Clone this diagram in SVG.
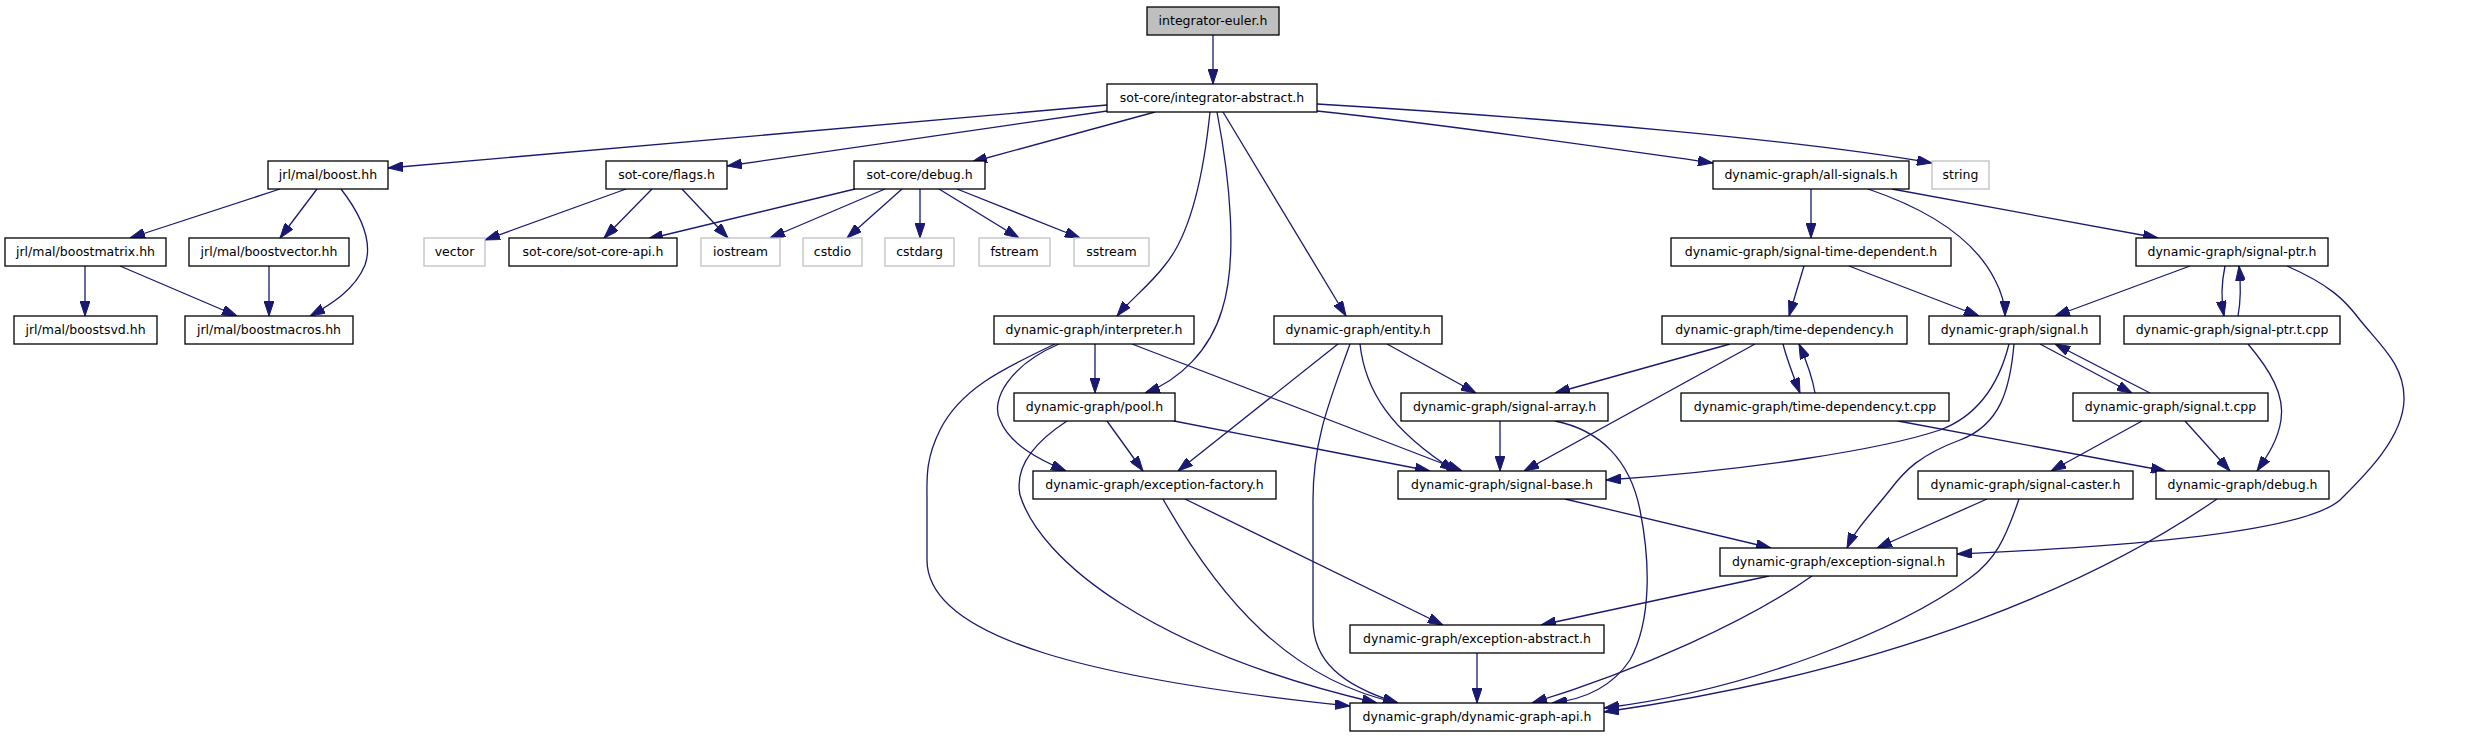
<svg xmlns="http://www.w3.org/2000/svg" width="2467" height="736" viewBox="0 0 2467 736">
<style>
.n rect{fill:#ffffff;stroke:#000000;stroke-width:1.3}
.n.root rect{fill:#bfbfbf}
.n.ext rect{stroke:#bfbfbf}
.n text{font-family:"DejaVu Sans",sans-serif;font-size:12.5px;fill:#000;text-anchor:middle}
.e path{fill:none;stroke:#191970;stroke-width:1.3;marker-end:url(#ah)}
</style>
<defs>
<marker id="ah" markerUnits="userSpaceOnUse" markerWidth="15" markerHeight="10" refX="15" refY="5" orient="auto">
<path d="M0,0 L15,5 L0,10 z" fill="#191970" stroke="#191970" stroke-width="1"/>
</marker>
</defs>
<rect width="2467" height="736" fill="#ffffff"/>
<g id="edges" class="e">
<path d="M1213,35 L1213,84"/>
<path d="M1107,105 L388,168"/>
<path d="M1107,111 L727,166"/>
<path d="M1155,112 L972,162"/>
<path d="M1210,112 C1203,180 1190,235 1165,265 C1150,285 1130,300 1117,316"/>
<path d="M1217,112 C1230,180 1238,260 1222,310 C1210,350 1180,380 1145,393"/>
<path d="M1223,112 L1346,316"/>
<path d="M1317,111 C1450,125 1600,147 1713,163"/>
<path d="M1317,104 C1550,118 1800,140 1932,163"/>
<path d="M280,189 L130,238"/>
<path d="M317,189 L280,238"/>
<path d="M341,189 C365,220 372,245 365,265 C355,290 330,305 310,316"/>
<path d="M85,266 L85,316"/>
<path d="M120,266 L237,316"/>
<path d="M269,266 L269,316"/>
<path d="M626,189 L485,240"/>
<path d="M652,189 L604,238"/>
<path d="M682,189 L728,238"/>
<path d="M855,189 L648,239"/>
<path d="M885,189 L770,238"/>
<path d="M902,189 L847,238"/>
<path d="M920,189 L920,238"/>
<path d="M939,189 L1019,238"/>
<path d="M957,189 L1080,238"/>
<path d="M1811,189 L1811,238"/>
<path d="M1868,189 C1930,210 1975,240 1995,280 C2003,295 2005,305 2005,316"/>
<path d="M1892,189 L2158,238"/>
<path d="M1804,266 L1789,316"/>
<path d="M1849,266 L1979,316"/>
<path d="M2190,266 L2055,316"/>
<path d="M2225,266 C2221,285 2221,300 2224,316"/>
<path d="M2238,316 C2241,300 2241,285 2239,266"/>
<path d="M2287,266 C2330,285 2345,300 2360,320 C2380,345 2405,365 2404,400 C2403,440 2360,480 2340,500 C2300,535 2100,548 1957,554"/>
<path d="M2248,344 C2270,370 2285,395 2281,420 C2278,440 2268,455 2257,471"/>
<path d="M1730,344 L1555,393"/>
<path d="M1755,344 L1524,471"/>
<path d="M1783,344 C1787,360 1793,375 1800,393"/>
<path d="M1815,393 C1812,375 1806,360 1799,344"/>
<path d="M2009,344 C2000,380 1980,415 1940,430 C1880,450 1750,470 1606,480"/>
<path d="M2014,344 C2010,390 2000,425 1960,440 C1920,455 1905,470 1890,490 C1870,515 1855,530 1847,548"/>
<path d="M2040,344 L2132,393"/>
<path d="M2150,393 L2055,344"/>
<path d="M2142,421 L2051,471"/>
<path d="M2185,421 L2230,471"/>
<path d="M1898,421 L2166,471"/>
<path d="M1500,421 L1500,471"/>
<path d="M1555,421 C1600,430 1630,460 1640,510 C1650,560 1652,620 1630,660 C1610,690 1580,700 1552,703"/>
<path d="M1565,499 L1771,548"/>
<path d="M1987,499 L1877,548"/>
<path d="M2019,499 C2005,540 1995,560 1970,578 C1900,630 1750,690 1604,708"/>
<path d="M2217,499 C2100,580 1900,670 1604,712"/>
<path d="M1769,576 L1541,625"/>
<path d="M1812,576 C1750,620 1640,670 1532,703"/>
<path d="M1477,653 L1477,703"/>
<path d="M1338,344 L1178,471"/>
<path d="M1350,344 C1330,400 1313,440 1313,500 L1313,620 C1313,660 1340,685 1398,703"/>
<path d="M1360,344 C1365,390 1390,430 1455,471"/>
<path d="M1387,344 L1476,393"/>
<path d="M1095,344 L1095,393"/>
<path d="M1132,344 L1462,471"/>
<path d="M1059,344 C1010,365 990,400 1000,420 C1010,445 1040,460 1066,471"/>
<path d="M1055,344 C1000,370 960,390 940,430 C925,460 927,480 927,500 L927,560 C927,640 1100,680 1350,706"/>
<path d="M1107,421 L1143,471"/>
<path d="M1174,421 L1430,471"/>
<path d="M1067,421 C1030,445 1015,470 1020,495 C1040,560 1150,650 1377,703"/>
<path d="M1163,499 C1220,600 1290,680 1398,703"/>
<path d="M1185,499 L1443,625"/>
</g>
<g id="n0" class="n root"><rect x="1147" y="7" width="132" height="28"/><text x="1213" y="25">integrator-euler.h</text></g>
<g id="n1" class="n"><rect x="1107" y="84" width="210" height="28"/><text x="1212" y="102">sot-core/integrator-abstract.h</text></g>
<g id="n2" class="n"><rect x="268" y="161" width="120" height="28"/><text x="328" y="179">jrl/mal/boost.hh</text></g>
<g id="n3" class="n"><rect x="606" y="161" width="121" height="28"/><text x="666.5" y="179">sot-core/flags.h</text></g>
<g id="n4" class="n"><rect x="854" y="161" width="131" height="28"/><text x="919.5" y="179">sot-core/debug.h</text></g>
<g id="n5" class="n"><rect x="1713" y="161" width="196" height="28"/><text x="1811" y="179">dynamic-graph/all-signals.h</text></g>
<g id="n6" class="n ext"><rect x="1932" y="161" width="57" height="28"/><text x="1960.5" y="179">string</text></g>
<g id="n7" class="n"><rect x="5" y="238" width="161" height="28"/><text x="85.5" y="256">jrl/mal/boostmatrix.hh</text></g>
<g id="n8" class="n"><rect x="189" y="238" width="160" height="28"/><text x="269" y="256">jrl/mal/boostvector.hh</text></g>
<g id="n9" class="n ext"><rect x="424" y="238" width="61" height="28"/><text x="454.5" y="256">vector</text></g>
<g id="n10" class="n"><rect x="509" y="238" width="168" height="28"/><text x="593" y="256">sot-core/sot-core-api.h</text></g>
<g id="n11" class="n ext"><rect x="701" y="238" width="79" height="28"/><text x="740.5" y="256">iostream</text></g>
<g id="n12" class="n ext"><rect x="803" y="238" width="59" height="28"/><text x="832.5" y="256">cstdio</text></g>
<g id="n13" class="n ext"><rect x="885" y="238" width="69" height="28"/><text x="919.5" y="256">cstdarg</text></g>
<g id="n14" class="n ext"><rect x="979" y="238" width="71" height="28"/><text x="1014.5" y="256">fstream</text></g>
<g id="n15" class="n ext"><rect x="1074" y="238" width="75" height="28"/><text x="1111.5" y="256">sstream</text></g>
<g id="n16" class="n"><rect x="1671" y="238" width="280" height="28"/><text x="1811" y="256">dynamic-graph/signal-time-dependent.h</text></g>
<g id="n17" class="n"><rect x="2136" y="238" width="192" height="28"/><text x="2232" y="256">dynamic-graph/signal-ptr.h</text></g>
<g id="n18" class="n"><rect x="14" y="316" width="143" height="28"/><text x="85.5" y="334">jrl/mal/boostsvd.hh</text></g>
<g id="n19" class="n"><rect x="185" y="316" width="168" height="28"/><text x="269" y="334">jrl/mal/boostmacros.hh</text></g>
<g id="n20" class="n"><rect x="994" y="316" width="200" height="28"/><text x="1094" y="334">dynamic-graph/interpreter.h</text></g>
<g id="n21" class="n"><rect x="1274" y="316" width="168" height="28"/><text x="1358" y="334">dynamic-graph/entity.h</text></g>
<g id="n22" class="n"><rect x="1662" y="316" width="245" height="28"/><text x="1784.5" y="334">dynamic-graph/time-dependency.h</text></g>
<g id="n23" class="n"><rect x="1929" y="316" width="171" height="28"/><text x="2014.5" y="334">dynamic-graph/signal.h</text></g>
<g id="n24" class="n"><rect x="2124" y="316" width="216" height="28"/><text x="2232" y="334">dynamic-graph/signal-ptr.t.cpp</text></g>
<g id="n25" class="n"><rect x="1014" y="393" width="161" height="28"/><text x="1094.5" y="411">dynamic-graph/pool.h</text></g>
<g id="n26" class="n"><rect x="1401" y="393" width="207" height="28"/><text x="1504.5" y="411">dynamic-graph/signal-array.h</text></g>
<g id="n27" class="n"><rect x="1681" y="393" width="268" height="28"/><text x="1815" y="411">dynamic-graph/time-dependency.t.cpp</text></g>
<g id="n28" class="n"><rect x="2073" y="393" width="195" height="28"/><text x="2170.5" y="411">dynamic-graph/signal.t.cpp</text></g>
<g id="n29" class="n"><rect x="1033" y="471" width="243" height="28"/><text x="1154.5" y="489">dynamic-graph/exception-factory.h</text></g>
<g id="n30" class="n"><rect x="1398" y="471" width="208" height="28"/><text x="1502" y="489">dynamic-graph/signal-base.h</text></g>
<g id="n31" class="n"><rect x="1918" y="471" width="215" height="28"/><text x="2025.5" y="489">dynamic-graph/signal-caster.h</text></g>
<g id="n32" class="n"><rect x="2156" y="471" width="173" height="28"/><text x="2242.5" y="489">dynamic-graph/debug.h</text></g>
<g id="n33" class="n"><rect x="1720" y="548" width="237" height="28"/><text x="1838.5" y="566">dynamic-graph/exception-signal.h</text></g>
<g id="n34" class="n"><rect x="1350" y="625" width="254" height="28"/><text x="1477" y="643">dynamic-graph/exception-abstract.h</text></g>
<g id="n35" class="n"><rect x="1350" y="703" width="254" height="28"/><text x="1477" y="721">dynamic-graph/dynamic-graph-api.h</text></g>
</svg>
